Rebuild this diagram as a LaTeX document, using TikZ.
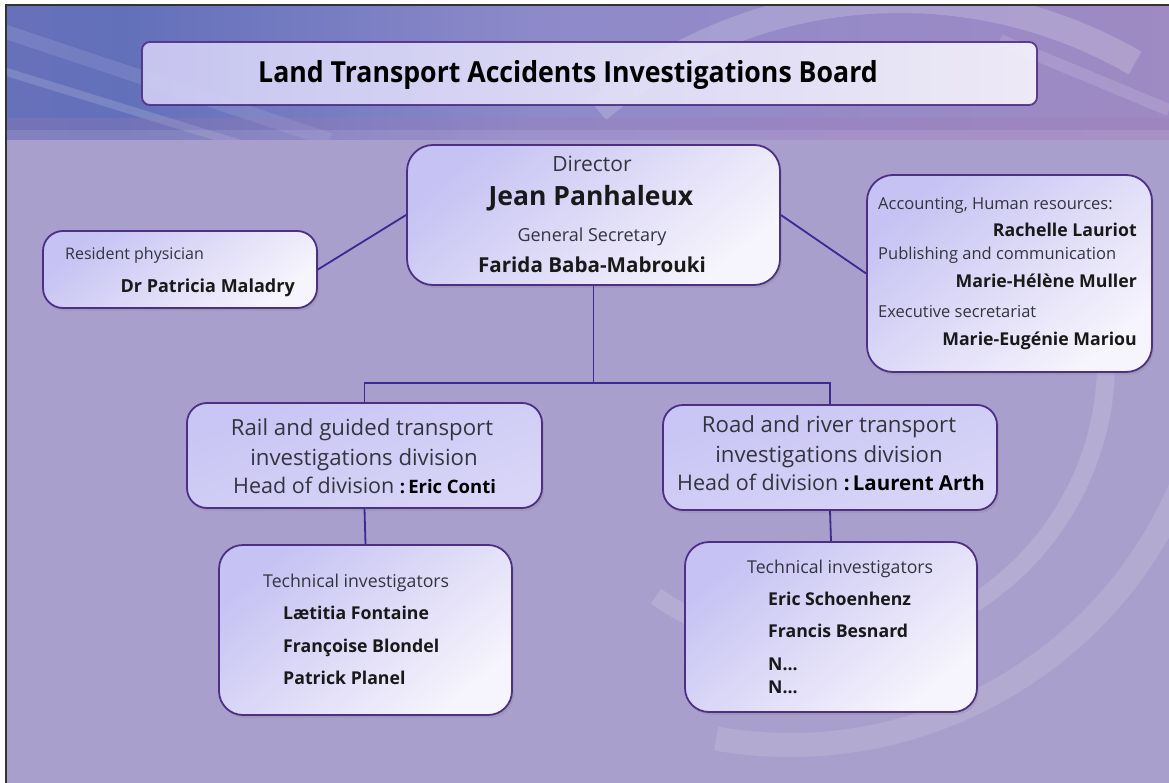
\documentclass[tikz,border=0pt]{standalone}
\usepackage{fontspec}
\setmainfont{Open Sans}
\newfontfamily\titlefont[FakeStretch=0.92]{Open Sans}
\usetikzlibrary{positioning, shadows}

\definecolor{boxline}{HTML}{4E2F86}
\definecolor{wire}{HTML}{3A2A92}
\definecolor{lavbg}{HTML}{A99FCC}
\definecolor{boxtop}{HTML}{C6C2F3}
\definecolor{boxlow}{HTML}{F6F4FC}
\definecolor{divtop}{HTML}{C9C5F4}
\definecolor{divlow}{HTML}{D8D5F7}
\definecolor{labelgray}{HTML}{34343F}
\definecolor{banleft}{HTML}{A27AB5}
\definecolor{banblue}{HTML}{6270BA}
\definecolor{banlav}{HTML}{8E8ACA}
\definecolor{banright}{HTML}{B88AB8}

\pgfdeclarehorizontalshading{bannershade}{100bp}{color(0bp)=(banleft); color(12bp)=(banblue!70!banleft);
  color(30bp)=(banblue); color(48bp)=(banlav); color(75bp)=(banlav!60!banright); color(100bp)=(banright)}

\newcommand\fsz[1]{\fontsize{#1}{#1}\selectfont}

\tikzset{
  orgbox/.style={draw=boxline, line width=1.8pt, rounded corners=#1, inner sep=0pt,
    top color=boxtop, bottom color=boxlow, shading angle=40,
    drop shadow={shadow xshift=2pt, shadow yshift=-3pt, opacity=0.22}},
  orgbox/.default=24pt,
  divbox/.style={orgbox=20pt, top color=divtop, bottom color=divlow, shading angle=20},
  link/.style={draw=wire, line width=1.8pt},
  lbl/.style={text=labelgray, inner sep=0pt},
  nm/.style={text=black!90, inner sep=0pt}
}

\begin{document}
\begin{tikzpicture}[x=1pt, y=-1pt]
  \useasboundingbox (0,0) rectangle (1169,783);
  \fill[white] (0,0) rectangle (1169,783);

  % background and banner
  \fill[lavbg] (7,138) rectangle (1169,783);
  \shade[shading=bannershade] (7,6) rectangle (1169,140);
  \begin{scope}
    \clip (7,6) rectangle (1169,140);
    \draw[white, opacity=0.18, line width=26] (900,470) ++(-130:470) arc[start angle=-130, end angle=-60, radius=470];
    \draw[white, opacity=0.15, line width=8] (0,70) -- (260,150);
    \draw[white, opacity=0.10, line width=14] (0,30) -- (330,140);
    \draw[white, opacity=0.12, line width=12] (1000,40) -- (1169,110);
    \fill[banleft, opacity=0.25] (7,118) rectangle (1169,140);
    \fill[white, opacity=0.10] (7,130) rectangle (1169,140);
  \end{scope}
  \draw[white, opacity=0.14, line width=18] (820,362) ++(125:286) arc[start angle=125, end angle=-30, radius=286];
  \draw[white, opacity=0.12, line width=24] (790,320) ++(100:425) arc[start angle=100, end angle=0, radius=425];

  % frame
  \draw[black!80, line width=1.6pt] (6,783) -- (6,5) -- (1169,5);

  % boxes
  \node[draw=boxline, line width=1.8pt, rounded corners=8pt, minimum width=895, minimum height=63,
    left color=boxtop!80!white, right color=boxlow, opacity=0.9] (board) at (589.5,73.5) {};
  \node[orgbox=20pt, minimum width=274, minimum height=77] (resident) at (180,269.5) {};
  \node[orgbox=26pt, minimum width=373, minimum height=140] (director) at (593.5,215) {};
  \node[orgbox=26pt, minimum width=285, minimum height=197] (staff) at (1009.5,273.5) {};
  \node[divbox, minimum width=355, minimum height=105] (rail) at (364.5,455.5) {};
  \node[divbox, minimum width=334, minimum height=105] (road) at (830,457.5) {};
  \node[orgbox, minimum width=293, minimum height=170] (railteam) at (365.5,630) {};
  \node[orgbox, minimum width=292, minimum height=170] (roadteam) at (831,627) {};

  % connectors
  \draw[link] (resident.east) -- (director.west);
  \draw[link] (director.east) -- (staff.west);
  \draw[link] (director.south) -- ++(0,97) coordinate (split);
  \draw[link] (rail.north) |- (split) -| (road.north);
  \draw[link] (rail.south) -- (railteam.north);
  \draw[link] (road.south) -- (roadteam.north);

  % texts
  \node[anchor=base, font=\titlefont\bfseries\fsz{29}, inner sep=0pt] (boardtxt) at (568,83) {Land Transport Accidents Investigations Board};

  \node[lbl, anchor=base west, font=\fsz{16}] (residentlbl) at (65,260) {Resident physician};
  \node[nm, anchor=base east, font=\bfseries\fsz{18}] (residentnm) at (295,293) {Dr Patricia Maladry};

  \node[lbl, anchor=base, font=\fsz{21}] (directorlbl) at (592,172) {Director};
  \node[nm, anchor=base, font=\bfseries\fsz{26.5}] (directornm) at (591,206) {Jean Panhaleux};
  \node[lbl, anchor=base, font=\fsz{18}] (secretarylbl) at (592,242) {General Secretary};
  \node[nm, anchor=base, font=\bfseries\fsz{20.6}] (secretarynm) at (592,273) {Farida Baba-Mabrouki};

  \node[lbl, anchor=base west, font=\fsz{16.5}] (acclbl) at (878,210) {Accounting, Human resources:};
  \node[nm, anchor=base east, font=\bfseries\fsz{17.7}] (accnm) at (1137,237) {Rachelle Lauriot};
  \node[lbl, anchor=base west, font=\fsz{16.5}] (publbl) at (878,260) {Publishing and communication};
  \node[nm, anchor=base east, font=\bfseries\fsz{17.7}] (pubnm) at (1137,288) {Marie-Hélène Muller};
  \node[lbl, anchor=base west, font=\fsz{16.5}] (execlbl) at (878,318) {Executive secretariat};
  \node[nm, anchor=base east, font=\bfseries\fsz{17.7}] (execnm) at (1137,345) {Marie-Eugénie Mariou};

  \node[lbl, anchor=base, font=\fsz{22.2}] (rail1) at (362,435) {Rail and guided transport};
  \node[lbl, anchor=base, font=\fsz{22.2}] (rail2) at (364,465) {investigations division};
  \node[lbl, anchor=base west, font=\fsz{21.5}] (rail3) at (233,493) {Head of division {\color{black}\bfseries\fsz{18.5}:\hspace{3pt}Eric Conti}};

  \node[lbl, anchor=base, font=\fsz{22.2}] (road1) at (829,432) {Road and river transport};
  \node[lbl, anchor=base, font=\fsz{22.2}] (road2) at (829,462) {investigations division};
  \node[lbl, anchor=base west, font=\fsz{21.5}] (road3) at (677,490) {Head of division {\color{black}\bfseries\fsz{20.5}:\hspace{3pt}Laurent Arth}};

  \node[lbl, anchor=base west, font=\fsz{17.7}] (raillbl) at (263,587) {Technical investigators};
  \node[nm, anchor=base west, font=\bfseries\fsz{17.7}] (railnm1) at (283,619) {Lætitia Fontaine};
  \node[nm, anchor=base west, font=\bfseries\fsz{17.7}] (railnm2) at (283,652) {Françoise Blondel};
  \node[nm, anchor=base west, font=\bfseries\fsz{17.7}] (railnm3) at (283,684) {Patrick Planel};

  \node[lbl, anchor=base west, font=\fsz{17.7}] (roadlbl) at (747,573) {Technical investigators};
  \node[nm, anchor=base west, font=\bfseries\fsz{17.7}] (roadnm1) at (768,605) {Eric Schoenhenz};
  \node[nm, anchor=base west, font=\bfseries\fsz{17.7}] (roadnm2) at (768,637) {Francis Besnard};
  \node[nm, anchor=base west, font=\bfseries\fsz{17.7}] (roadnm3) at (768,670) {N...};
  \node[nm, anchor=base west, font=\bfseries\fsz{17.7}] (roadnm4) at (768,693) {N...};
\end{tikzpicture}
\end{document}
